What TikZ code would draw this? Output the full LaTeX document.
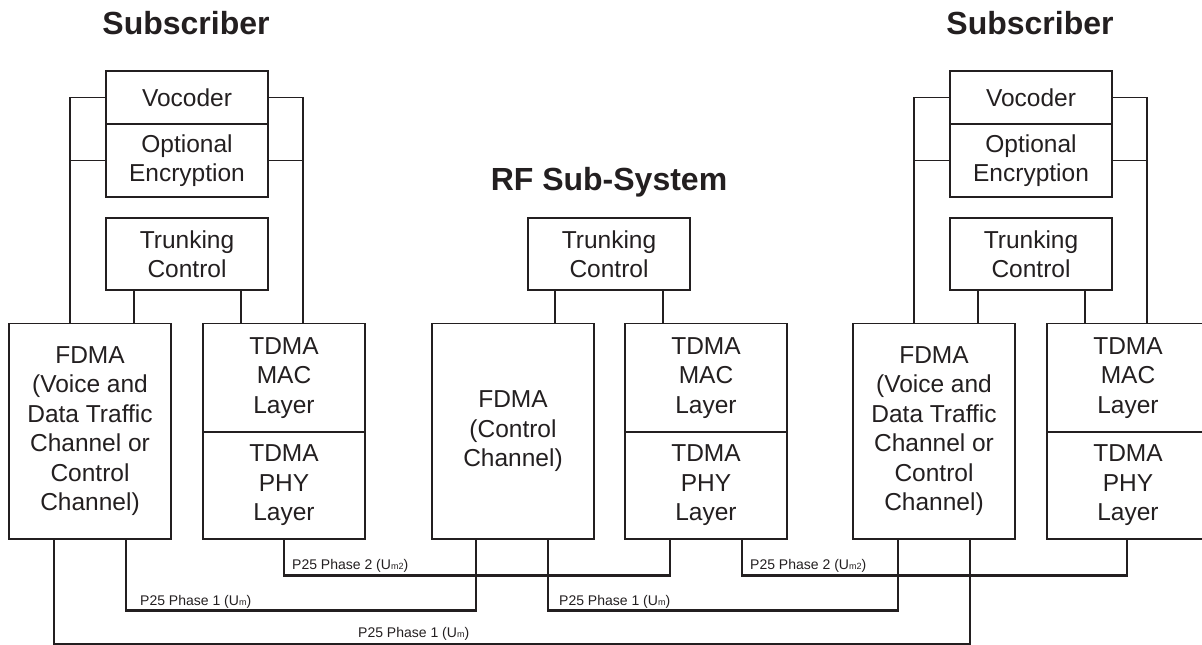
\documentclass[tikz,border=0pt]{standalone}
\usepackage{fontspec}
\setmainfont{Liberation Sans}
\definecolor{ink}{HTML}{231F20}
\newcommand\smallsub[1]{{\fontsize{9}{9}\selectfont #1}}
\begin{document}
\begin{tikzpicture}[x=1pt,y=-1pt,
  box/.style={draw=ink, line width=1.2pt, minimum width=162pt, inner sep=0pt,
    align=center, text=ink, font=\fontsize{24.5}{29.5}\selectfont},
  wire/.style={draw=ink, line width=1.2pt},
  bus/.style={draw=ink, line width=2.4pt},
  lbl/.style={text=ink, inner sep=0pt, anchor=west, font=\fontsize{14}{16}\selectfont},
  title/.style={text=ink, font=\bfseries\fontsize{32}{38}\selectfont}]
\useasboundingbox (0,0) rectangle (1202,645);

% titles
\node[title] (tL) at (186,23) {Subscriber};
\node[title] (tR) at (1030,23) {Subscriber};
\node[title] (tRF) at (609,182) {RF Sub-System};

% subscribers
\foreach \p/\o in {L/0,R/844}{
  \node[box, minimum height=53pt] (\p voc) at (187+\o,97.5) {Vocoder};
  \node[box, minimum height=73pt] (\p enc) at (187+\o,160.5) {Optional\\Encryption};
  \node[box, minimum height=72pt] (\p trk) at (187+\o,254) {Trunking\\Control};
  \node[box, minimum height=215.5pt] (\p fd) at (90+\o,431.25) {FDMA\\(Voice and\\Data Traffic\\Channel or\\Control\\Channel)};
  \node[box, minimum height=108.5pt] (\p mac) at (284+\o,377.75) {TDMA\\MAC\\Layer};
  \node[box, minimum height=107pt] (\p phy) at (284+\o,485.5) {TDMA\\PHY\\Layer};
  \coordinate (\p xa) at (70+\o,0);
  \coordinate (\p xb) at (303+\o,0);
  \coordinate (\p xc) at (134+\o,0);
  \coordinate (\p xd) at (241+\o,0);
  \draw[wire] (\p voc.west) -| (\p xa |- \p fd.north);
  \draw[wire] (\p enc.west) -- (\p enc.west -| \p xa);
  \draw[wire] (\p voc.east) -| (\p xb |- \p mac.north);
  \draw[wire] (\p enc.east) -- (\p enc.east -| \p xb);
  \draw[wire] (\p xc |- \p trk.south) -- (\p xc |- \p fd.north);
  \draw[wire] (\p xd |- \p trk.south) -- (\p xd |- \p mac.north);
}

% RF sub-system
\node[box, minimum height=72pt] (Ftrk) at (609,254) {Trunking\\Control};
\node[box, minimum height=215.5pt] (Ffd) at (513,431.25) {FDMA\\(Control\\Channel)};
\node[box, minimum height=108.5pt] (Fmac) at (706,377.75) {TDMA\\MAC\\Layer};
\node[box, minimum height=107pt] (Fphy) at (706,485.5) {TDMA\\PHY\\Layer};
\coordinate (Fxa) at (555,0);
\coordinate (Fxb) at (663,0);
\draw[wire] (Fxa |- Ftrk.south) -- (Fxa |- Ffd.north);
\draw[wire] (Fxb |- Ftrk.south) -- (Fxb |- Fmac.north);

% air interfaces
\draw[bus] ([xshift=36pt]Lfd.south) -- ++(0,71) -| ([xshift=-37pt]Ffd.south);
\draw[bus] (Lphy.south) -- ++(0,36) -| ([xshift=-36pt]Fphy.south);
\draw[bus] ([xshift=35pt]Ffd.south) -- ++(0,71) -| ([xshift=-36pt]Rfd.south);
\draw[bus] ([xshift=36pt]Fphy.south) -- ++(0,36) -| ([xshift=-1pt]Rphy.south);
\draw[bus] ([xshift=-36pt]Lfd.south) -- ++(0,105) -| ([xshift=36pt]Rfd.south);

\node[lbl] (p2a) at (292,566) {P25 Phase 2 (U\smallsub{m2})};
\node[lbl] (p1a) at (140,602) {P25 Phase 1 (U\smallsub{m})};
\node[lbl] (p2b) at (750,566) {P25 Phase 2 (U\smallsub{m2})};
\node[lbl] (p1b) at (559,602) {P25 Phase 1 (U\smallsub{m})};
\node[lbl] (p1c) at (358,634) {P25 Phase 1 (U\smallsub{m})};
\end{tikzpicture}
\end{document}
